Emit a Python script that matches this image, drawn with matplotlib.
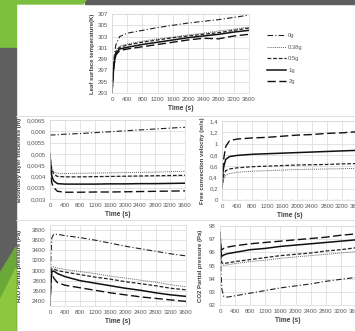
import matplotlib
matplotlib.use("Agg")
import matplotlib.pyplot as plt
from matplotlib.patches import Polygon, Rectangle
from matplotlib.ticker import FuncFormatter, MultipleLocator

plt.rcParams["font.family"] = ["Liberation Sans", "DejaVu Sans"]

# time samples (s)
time_s = [0, 25, 50, 100, 200, 400, 800, 1200, 1600, 2000, 2400, 2800, 3200, 3600]
series_names = ["0g", "0.38g", "0.5g", "1g", "2g"]
temp_ticks = [293, 295, 297, 299, 301, 303, 305, 307]

# leaf surface temperature (K)
temp_0g = [293, 296.5, 299, 301.5, 303, 303.6, 304.1, 304.6, 305, 305.4, 305.7, 306, 306.4, 306.8]
temp_038g = [293, 296, 298.5, 300.5, 301.3, 301.7, 302.2, 302.6, 302.9, 303.3, 303.6, 304.0, 304.3, 304.7]
temp_05g = [293, 296, 298.3, 300.3, 301.1, 301.5, 302, 302.4, 302.8, 303.1, 303.4, 303.7, 304.1, 304.5]
temp_1g = [293, 295.8, 298, 300, 300.8, 301.1, 301.6, 302, 302.4, 302.8, 303.1, 303.4, 303.8, 304.1]
temp_2g = [293, 295.5, 297.7, 299.7, 300.5, 300.8, 301.2, 301.6, 302, 302.4, 302.7, 302.6, 303.1, 303.4]

# boundary layer thickness (m)
blt_0g = [0.00583, 0.00583, 0.00584, 0.00584, 0.00585, 0.00587, 0.0059, 0.00594, 0.00598, 0.00602, 0.00606, 0.0061, 0.00614, 0.00618]
blt_038g = [0.005, 0.0046, 0.0044, 0.0042, 0.00414, 0.00413, 0.00414, 0.00415, 0.00416, 0.00417, 0.00418, 0.00419, 0.00421, 0.00423]
blt_05g = [0.005, 0.0045, 0.0043, 0.0041, 0.004, 0.00398, 0.00398, 0.00399, 0.004, 0.00401, 0.00402, 0.00403, 0.00404, 0.00405]
blt_1g = [0.005, 0.0043, 0.004, 0.0038, 0.00368, 0.00366, 0.00366, 0.00366, 0.00367, 0.00367, 0.00368, 0.00368, 0.00369, 0.0037]
blt_2g = [0.005, 0.004, 0.0037, 0.0035, 0.00334, 0.0033, 0.0033, 0.00331, 0.00331, 0.00332, 0.00333, 0.00334, 0.00335, 0.00336]

# free convection velocity (m/s)
vel_0g = [0, 0, 0, 0, 0, 0, 0, 0, 0, 0, 0, 0, 0, 0]
vel_038g = [0.2, 0.3, 0.38, 0.44, 0.47, 0.49, 0.51, 0.52, 0.53, 0.54, 0.545, 0.55, 0.555, 0.56]
vel_05g = [0.2, 0.35, 0.45, 0.52, 0.55, 0.57, 0.59, 0.6, 0.61, 0.62, 0.625, 0.63, 0.64, 0.645]
vel_1g = [0.25, 0.5, 0.6, 0.72, 0.77, 0.79, 0.81, 0.82, 0.83, 0.84, 0.85, 0.86, 0.87, 0.88]
vel_2g = [0.3, 0.6, 0.75, 0.95, 1.05, 1.08, 1.1, 1.11, 1.13, 1.15, 1.16, 1.18, 1.19, 1.21]

# H2O partial pressure (Pa)
h2o_0g = [2300, 3300, 3650, 3720, 3715, 3690, 3650, 3600, 3540, 3480, 3430, 3380, 3330, 3290]
h2o_038g = [2300, 2900, 3080, 3070, 3050, 3020, 2980, 2940, 2890, 2850, 2810, 2770, 2720, 2680]
h2o_05g = [2300, 2850, 3030, 3030, 3000, 2970, 2920, 2870, 2830, 2780, 2740, 2700, 2650, 2620]
h2o_1g = [2300, 2850, 2980, 2990, 2940, 2880, 2800, 2750, 2700, 2650, 2610, 2560, 2520, 2490]
h2o_2g = [2300, 2800, 2940, 2850, 2760, 2710, 2660, 2610, 2560, 2520, 2480, 2450, 2420, 2390]

# CO2 partial pressure (Pa)
co2_0g = [97.5, 94.5, 93.2, 92.65, 92.6, 92.7, 92.9, 93.1, 93.3, 93.45, 93.6, 93.8, 93.95, 94.1]
co2_038g = [97.5, 95.5, 95.1, 95.0, 95.05, 95.15, 95.3, 95.4, 95.55, 95.65, 95.75, 95.85, 95.95, 96.05]
co2_05g = [97.5, 95.6, 95.2, 95.15, 95.2, 95.3, 95.45, 95.6, 95.75, 95.85, 95.95, 96.1, 96.2, 96.35]
co2_1g = [97.5, 96.0, 95.7, 95.8, 95.9, 96.0, 96.2, 96.3, 96.45, 96.55, 96.65, 96.75, 96.85, 96.95]
co2_2g = [97.5, 96.3, 96.2, 96.3, 96.4, 96.5, 96.65, 96.75, 96.85, 96.95, 97.05, 97.15, 97.3, 97.4]

styles = [
    dict(color="#222222", lw=0.8, dashes=(5, 2, 1, 2)),
    dict(color="#666666", lw=0.7, dashes=(1, 1)),
    dict(color="#222222", lw=0.9, dashes=(3, 1.5)),
    dict(color="#111111", lw=1.1),
    dict(color="#111111", lw=1.0, dashes=(6, 2.5)),
]

fig = plt.figure(figsize=(3.55, 3.31), dpi=100)
W, H = 355, 331


def fx(px):
    return px / W


def fy(py):
    return 1 - py / H


# slide background decorations
gray = "#5f5f5f"
green = "#7cbf3f"
fig.patches.append(Rectangle((fx(85), fy(4)), 1, 1, transform=fig.transFigure, color=gray, zorder=0))
fig.patches.append(Polygon([(fx(16), 1), (fx(86), 1), (fx(83), fy(4)), (fx(16), fy(4))],
                           closed=True, transform=fig.transFigure, color=green, zorder=0))
fig.patches.append(Rectangle((0, fy(48)), fx(16), fy(0) - fy(48), transform=fig.transFigure, color=green, zorder=0))
fig.patches.append(Rectangle((0, 0), fx(16), fy(48), transform=fig.transFigure, color=gray, zorder=0))
fig.patches.append(Polygon([(0, fy(273)), (fx(16), fy(247)), (fx(16), 0), (0, 0)],
                           closed=True, transform=fig.transFigure, color="#6aa838", zorder=1))
fig.patches.append(Polygon([(0, fy(300)), (fx(16), fy(268)), (fx(16), 0), (0, 0)],
                           closed=True, transform=fig.transFigure, color="#8dc63f", zorder=1))
for yy in (116, 220):
    fig.add_artist(plt.Line2D([fx(16), 1], [fy(yy), fy(yy)], transform=fig.transFigure,
                              color="#d9d9d9", lw=0.6))

comma = FuncFormatter(lambda v, p: ("%g" % v).replace(".", ","))


def make_axes(box, ydata, ylim, yticks, ylabel, label_x, fmt=None):
    x0, x1, y0, y1 = box
    ax = fig.add_axes([fx(x0), fy(y1), fx(x1 - x0), (y1 - y0) / H])
    for data, st in zip(ydata, styles):
        kw = dict(st)
        dashes = kw.pop("dashes", None)
        line, = ax.plot(time_s, data, **kw)
        if dashes:
            line.set_dashes(dashes)
    ax.set_xlim(0, 3600)
    ax.set_ylim(*ylim)
    ax.xaxis.set_major_locator(MultipleLocator(400))
    if isinstance(yticks, list):
        ax.set_yticks(yticks)
    else:
        ax.yaxis.set_major_locator(MultipleLocator(yticks))
    if fmt is not None:
        ax.yaxis.set_major_formatter(fmt)
    ax.grid(True, color="#d9d9d9", lw=0.5)
    ax.set_axisbelow(True)
    for s in ax.spines.values():
        s.set_color("#d9d9d9")
        s.set_linewidth(0.5)
    ax.tick_params(length=0, labelsize=4.4, colors="#595959", pad=3)
    ax.set_xlabel("Time (s)", fontsize=4.8, color="#404040", fontweight="bold", labelpad=2)
    ax.set_ylabel(ylabel, fontsize=4.3, color="#404040", fontweight="bold")
    ax.yaxis.set_label_coords((label_x - x0) / (x1 - x0), 0.5)
    return ax


ax_top = make_axes((112, 249, 14, 93), [temp_0g, temp_038g, temp_05g, temp_1g, temp_2g],
                   (293, 307), temp_ticks, "Leaf surface temperature(K)", 95)
make_axes((50, 185, 120, 199), [blt_0g, blt_038g, blt_05g, blt_1g, blt_2g],
          (0.003, 0.0065), 0.0005, "Boundary layer thickness (m)", 22, comma)
make_axes((222, 357, 121, 200), [vel_0g, vel_038g, vel_05g, vel_1g, vel_2g],
          (0, 1.4), 0.2, "Free convection velocity (m/s)", 205, comma)
make_axes((50, 186, 225, 306), [h2o_0g, h2o_038g, h2o_05g, h2o_1g, h2o_2g],
          (2300, 3900), 200, "H2O Partial pressure (Pa)", 22)
make_axes((220, 356, 226, 305), [co2_0g, co2_038g, co2_05g, co2_1g, co2_2g],
          (92, 98), 1, "CO2 Partial pressure (Pa)", 203)

handles = ax_top.get_lines()
fig.legend(handles, series_names, loc="upper left", bbox_to_anchor=(fx(262), fy(28)),
           frameon=False, fontsize=4.2, handlelength=3.2, labelspacing=1.1,
           handletextpad=0.4, labelcolor="#595959")

fig.savefig("out.png", dpi=100)
